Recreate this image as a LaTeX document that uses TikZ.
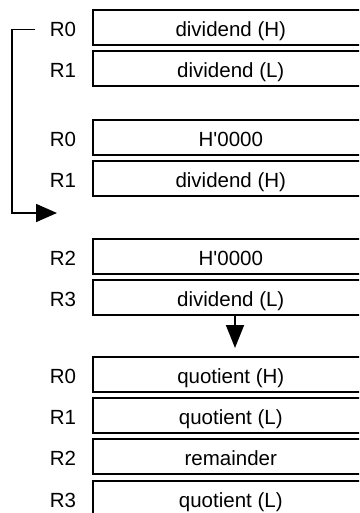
\documentclass[tikz,border=0pt]{standalone}
\usepackage{fontspec}
\setmainfont{Liberation Sans}
\usetikzlibrary{arrows.meta}
\tikzset{
  regbox/.style={draw, line width=1.6pt, rectangle, anchor=north west,
    minimum width=276pt, minimum height=35pt, inner sep=0pt,
    font=\fontsize{20.5}{22}\selectfont, text height=18.6pt, text depth=0pt},
  reglab/.style={inner sep=0pt, font=\fontsize{20.5}{22}\selectfont,
    text height=18.6pt, text depth=0pt},
  conn/.style={line width=1.6pt},
}
\begin{document}
\begin{tikzpicture}[x=1pt,y=-1pt]
\useasboundingbox (0,0) rectangle (359,513);
\clip (0,0) rectangle (359,513);
% boxes
\node[regbox] (b1) at (92,9) {dividend (H)};
\node[regbox] (b2) at (92,50) {dividend (L)};
\node[regbox] (b3) at (92,119) {H\textquotesingle 0000};
\node[regbox] (b4) at (92,160) {dividend (H)};
\node[regbox] (b5) at (92,238) {H\textquotesingle 0000};
\node[regbox] (b6) at (92,279) {dividend (L)};
\node[regbox] (b7) at (92,356) {quotient (H)};
\node[regbox] (b8) at (92,397) {quotient (L)};
\node[regbox] (b9) at (92,438) {remainder};
\node[regbox] (b10) at (92,480) {quotient (L)};
% labels
\node[reglab] (l1) at (b1.center -| 63,0) {R0};
\node[reglab] (l2) at (b2.center -| 63,0) {R1};
\node[reglab] (l3) at (b3.center -| 63,0) {R0};
\node[reglab] (l4) at (b4.center -| 63,0) {R1};
\node[reglab] (l5) at (b5.center -| 63,0) {R2};
\node[reglab] (l6) at (b6.center -| 63,0) {R3};
\node[reglab] (l7) at (b7.center -| 63,0) {R0};
\node[reglab] (l8) at (b8.center -| 63,0) {R1};
\node[reglab] (l9) at (b9.center -| 63,0) {R2};
\node[reglab] (l10) at (b10.center -| 63,0) {R3};
% bracket arrow
\coordinate (bs) at (35,29.5);
\coordinate (bc) at (12,29.5);
\coordinate (bt) at (57,213);
\draw[conn, -{Triangle[length=21pt,width=18pt]}] (bs) -- (bc) |- (bt);
% down arrow
\coordinate (ds) at (235,315);
\coordinate (dt) at (235,348);
\draw[conn, -{Triangle[length=23pt,width=18pt]}] (ds) -- (dt);
\end{tikzpicture}
\end{document}
